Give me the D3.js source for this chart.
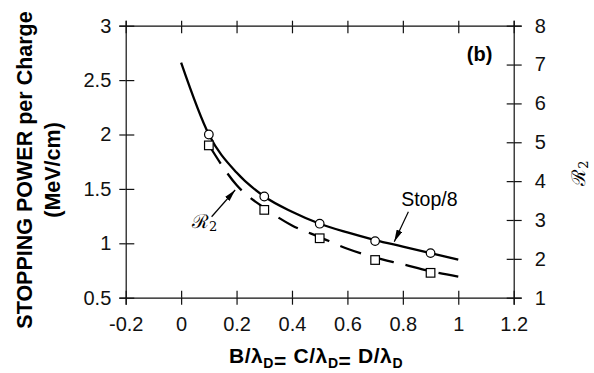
<!DOCTYPE html>
<html>
<head>
<meta charset="utf-8">
<script src="https://cdn.jsdelivr.net/npm/d3@7"></script>
<style>
  body { margin: 0; background: #fff; }
  svg { display: block; font-family: "Liberation Sans", Arial, sans-serif; }
  .axis path, .axis line { stroke: #111; stroke-width: 1.2; }
  .axis text { font-size: 20px; fill: #111; }
</style>
</head>
<body>
<svg id="chart"></svg>
<script>
// x ticks / y ticks
const xTicks = [-0.2, 0, 0.2, 0.4, 0.6, 0.8, 1, 1.2];
const yLeftTicks = [0.5, 1, 1.5, 2, 2.5, 3];
const yRightTicks = [1, 2, 3, 4, 5, 6, 7, 8];

// Stop/8 (left axis) - smooth curve and circle markers
const stopCurveX = [0, 0.1, 0.2, 0.3, 0.4, 0.5, 0.6, 0.7, 0.8, 0.9, 1.0];
const stopCurveY = [2.66, 2.0, 1.65, 1.43, 1.29, 1.18, 1.10, 1.03, 0.97, 0.91, 0.85];
const stopMarkX = [0.1, 0.3, 0.5, 0.7, 0.9];
const stopMarkY = [2.0, 1.43, 1.18, 1.02, 0.91];

// R2 (right axis) - dashed curve and square markers
const r2CurveX = [0.1, 0.2, 0.3, 0.4, 0.5, 0.6, 0.7, 0.8, 0.9, 1.0];
const r2CurveY = [4.93, 3.90, 3.31, 2.86, 2.56, 2.26, 2.03, 1.86, 1.68, 1.54];
const r2MarkX = [0.1, 0.3, 0.5, 0.7, 0.9];
const r2MarkY = [4.92, 3.26, 2.53, 1.97, 1.64];

const W = 594, H = 373;
const margin = {top: 25.7, right: 80.3, bottom: 75.3, left: 125.7};
const width = W - margin.left - margin.right;
const height = H - margin.top - margin.bottom;

const svg = d3.select('#chart').attr('width', W).attr('height', H);
const g = svg.append('g').attr('transform', `translate(${margin.left},${margin.top})`);

const x = d3.scaleLinear().domain([-0.2, 1.2]).range([0, width]);
const yL = d3.scaleLinear().domain([0.5, 3]).range([height, 0]);
const yR = d3.scaleLinear().domain([1, 8]).range([height, 0]);

// plain hyphen for negatives, like the original
const fmt = d => String(d);

// bottom axis
const xAxisG = g.append('g').attr('class', 'axis')
  .attr('transform', `translate(0,${height})`)
  .call(d3.axisBottom(x).tickValues(xTicks).tickFormat(fmt).tickSizeOuter(0).tickSize(7).tickPadding(12));
xAxisG.selectAll('.tick').append('line').attr('y2', -7);

// top axis (ticks only)
const topG = g.append('g').attr('class', 'axis')
  .call(d3.axisTop(x).tickValues(xTicks).tickFormat('').tickSizeOuter(0).tickSize(5));
topG.selectAll('.tick').append('line').attr('y2', 7.6);

// left axis
const yAxisG = g.append('g').attr('class', 'axis')
  .call(d3.axisLeft(yL).tickValues(yLeftTicks).tickFormat(fmt).tickSizeOuter(0).tickSize(6.4).tickPadding(8));
yAxisG.selectAll('.tick').append('line').attr('x2', 8.6);

// right axis
const yRAxisG = g.append('g').attr('class', 'axis')
  .attr('transform', `translate(${width},0)`)
  .call(d3.axisRight(yR).tickValues(yRightTicks).tickFormat(fmt).tickSizeOuter(0).tickSize(8).tickPadding(13));
yRAxisG.selectAll('.tick').append('line').attr('x2', -7);

// lines
const stopLine = d3.line()
  .x((d, i) => x(stopCurveX[i]))
  .y(d => yL(d))
  .curve(d3.curveMonotoneX);

const r2Line = d3.line()
  .x((d, i) => x(r2CurveX[i]))
  .y(d => yR(d))
  .curve(d3.curveMonotoneX);

g.append('path')
  .datum(stopCurveY)
  .attr('d', stopLine)
  .attr('fill', 'none')
  .attr('stroke', '#000')
  .attr('stroke-width', 2.3);

g.append('path')
  .datum(r2CurveY)
  .attr('d', r2Line)
  .attr('fill', 'none')
  .attr('stroke', '#000')
  .attr('stroke-width', 2.3)
  .attr('stroke-dasharray', '22,12');

// markers
g.selectAll('.stop-mark')
  .data(stopMarkY)
  .join('circle')
  .attr('class', 'stop-mark')
  .attr('cx', (d, i) => x(stopMarkX[i]))
  .attr('cy', d => yL(d))
  .attr('r', 4.3)
  .attr('fill', '#fff')
  .attr('stroke', '#000')
  .attr('stroke-width', 1.2);

g.selectAll('.r2-mark')
  .data(r2MarkY)
  .join('rect')
  .attr('class', 'r2-mark')
  .attr('x', (d, i) => x(r2MarkX[i]) - 4.3)
  .attr('y', d => yR(d) - 4.3)
  .attr('width', 8.6)
  .attr('height', 8.6)
  .attr('fill', '#fff')
  .attr('stroke', '#000')
  .attr('stroke-width', 1.2);

// annotations (data units, left axis)
svg.append('defs').append('marker')
  .attr('id', 'head')
  .attr('viewBox', '0 0 12 6')
  .attr('refX', 12).attr('refY', 3)
  .attr('markerWidth', 12).attr('markerHeight', 6)
  .attr('markerUnits', 'userSpaceOnUse')
  .attr('orient', 'auto')
  .append('path').attr('d', 'M0,0 L12,3 L0,6 Z').attr('fill', '#000');

const arrows = [
  {from: [0.820, 1.29], to: [0.769, 1.015]},
  {from: [0.110, 1.244], to: [0.195, 1.49]}
];
g.selectAll('.arrow')
  .data(arrows)
  .join('line')
  .attr('class', 'arrow')
  .attr('x1', d => x(d.from[0])).attr('y1', d => yL(d.from[1]))
  .attr('x2', d => x(d.to[0])).attr('y2', d => yL(d.to[1]))
  .attr('stroke', '#000')
  .attr('stroke-width', 1.2)
  .attr('marker-end', 'url(#head)');

g.append('text')
  .attr('x', x(0.794)).attr('y', yL(1.343))
  .attr('font-size', 19.5)
  .text('Stop/8');

const r2Lab = g.append('text')
  .attr('x', x(0.039)).attr('y', yL(1.14))
  .attr('font-family', '"DejaVu Serif", serif')
  .attr('font-size', 19);
r2Lab.append('tspan').text('ℛ');
r2Lab.append('tspan').attr('font-size', 13).attr('dy', 3).text('2');

g.append('text')
  .attr('x', x(1.031)).attr('y', yL(2.675))
  .attr('font-size', 20)
  .attr('font-weight', 'bold')
  .text('(b)');

// axis titles
const yTitle = svg.append('g').attr('font-weight', 'bold').attr('font-size', 21.5)
  .attr('text-anchor', 'middle');
yTitle.append('text')
  .attr('transform', 'translate(31.7,170) rotate(-90)')
  .text('STOPPING POWER per Charge');
yTitle.append('text')
  .attr('transform', 'translate(60,170) rotate(-90)')
  .text('(MeV/cm)');

const rTitle = svg.append('text')
  .attr('transform', 'translate(585,173) rotate(-90)')
  .attr('text-anchor', 'middle')
  .attr('font-family', '"DejaVu Serif", serif')
  .attr('font-size', 19);
rTitle.append('tspan').text('ℛ');
rTitle.append('tspan').attr('font-size', 13).attr('dy', 3).text('2');

const xTitle = svg.append('text')
  .attr('x', 316).attr('y', 363)
  .attr('text-anchor', 'middle')
  .attr('font-weight', 'bold')
  .attr('font-size', 21)
  .attr('letter-spacing', 0.6);
['B', 'C', 'D'].forEach((v, i) => {
  xTitle.append('tspan').attr('dy', i === 0 ? 0 : -5).text((i === 0 ? '' : ' ') + v + '/λ');
  xTitle.append('tspan').attr('font-size', 14).attr('dy', 5).text('D');
  if (i < 2) xTitle.append('tspan').text('=');
});
</script>
</body>
</html>
